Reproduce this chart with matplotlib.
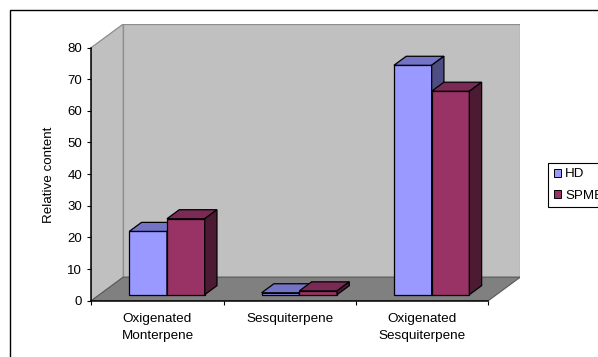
import matplotlib
matplotlib.use("Agg")
import matplotlib.pyplot as plt
from matplotlib.patches import Polygon, Rectangle, Patch
import numpy as np

plt.rcParams['font.family'] = ['Liberation Sans', 'DejaVu Sans']

# ---- data ----
categories = ["Oxigenated\nMonterpene", "Sesquiterpene", "Oxigenated\nSesquiterpene"]
series_names = ["HD", "SPME"]
hd_values = [20.0, 0.6, 72.5]
spme_values = [24.0, 1.2, 64.3]
y_ticks = [0, 10, 20, 30, 40, 50, 60, 70, 80]
y_label = "Relative content"

# ---- style ----
front_cols = ["#9999FF", "#993366"]
top_cols = ["#7474C6", "#7A2A55"]
side_cols = ["#4E4E85", "#4D1A33"]
wall_col = "#C0C0C0"
floor_col = "#808080"

W, H = 598, 357
fig = plt.figure(figsize=(W / 100, H / 100), dpi=100)

# 3D geometry (category units / value units)
DX = 0.2418      # total depth shift in x (categories)
DY = 7.45        # total depth shift in y (value units)
f0 = 0.255       # bar front depth fraction
fd = 0.383       # bar depth fraction
BW = 0.285       # bar width (categories)
LEFT0 = 0.287    # first bar front-left offset inside category
YMAX = 80

# axes placement in pixels
x0_px, x1_px = 91.3, 520.3
y0_px, ytop_px = 300.7, 24.0
ax = fig.add_axes([x0_px / W, (H - y0_px) / H, (x1_px - x0_px) / W, (y0_px - ytop_px) / H])
ax.set_xlim(0, 3 + DX)
ax.set_ylim(0, YMAX + DY)
ax.patch.set_visible(False)

# walls and floor
ax.add_patch(Rectangle((DX, DY), 3, YMAX, facecolor=wall_col, edgecolor="#8c8c8c", lw=0.9, zorder=0))
ax.add_patch(Polygon([(0, 0), (DX, DY), (DX, YMAX + DY), (0, YMAX)], closed=True,
                     facecolor=wall_col, edgecolor="#8c8c8c", lw=0.9, zorder=0))
ax.add_patch(Polygon([(0, 0), (3, 0), (3 + DX, DY), (DX, DY)], closed=True,
                     facecolor=floor_col, edgecolor="#5a5a5a", lw=0.8, zorder=1))

# bars
base = f0 * DY
bdx = fd * DX
bdy = fd * DY
idx = np.arange(len(categories))
for s, vals in enumerate([hd_values, spme_values]):
    lefts = idx + LEFT0 + s * BW
    z = 3 + s
    ax.bar(lefts, vals, width=BW, bottom=base, align='edge', color=front_cols[s],
           edgecolor="black", lw=0.9, zorder=z)
    for l, v in zip(lefts, vals):
        t = base + v
        ax.add_patch(Polygon([(l, t), (l + BW, t), (l + BW + bdx, t + bdy), (l + bdx, t + bdy)],
                             closed=True, facecolor=top_cols[s], edgecolor="black", lw=0.9, zorder=z))
        ax.add_patch(Polygon([(l + BW, base), (l + BW + bdx, base + bdy), (l + BW + bdx, t + bdy), (l + BW, t)],
                             closed=True, facecolor=side_cols[s], edgecolor="black", lw=0.9, zorder=z))

# axes lines and ticks
for sp in ["top", "right"]:
    ax.spines[sp].set_visible(False)
ax.spines["left"].set_bounds(0, YMAX)
ax.spines["bottom"].set_bounds(0, 3)
ax.spines["left"].set_linewidth(1.1)
ax.spines["bottom"].set_linewidth(1.1)
ax.spines["left"].set_zorder(6)
ax.spines["bottom"].set_zorder(6)
ax.set_yticks(y_ticks)
ax.tick_params(axis="y", direction="out", length=3, width=0.8, pad=3.5, labelsize=9.5)
ax.set_xticks([0, 1, 2, 3])
ax.set_xticklabels([])
ax.set_xticks(idx + 0.5, minor=True)
ax.set_xticklabels(categories, minor=True, fontsize=9.7, linespacing=1.65)
ax.tick_params(axis="x", which="major", direction="out", length=3, width=0.8)
ax.tick_params(axis="x", which="minor", length=0, pad=8.5)
ax.set_ylabel(y_label, fontsize=9.6)
ax.yaxis.set_label_coords(-0.085, 0.454)

# legend
handles = [Patch(facecolor=front_cols[i], edgecolor="black", lw=0.7) for i in range(2)]
leg = fig.legend(handles, series_names, loc="upper left",
                 bbox_to_anchor=(548.3 / W, 1 - 162.7 / H), fontsize=9.6,
                 frameon=True, fancybox=False, framealpha=1, edgecolor="black",
                 handlelength=0.56, handleheight=0.56, handletextpad=0.3,
                 labelspacing=0.7, borderpad=0.42, borderaxespad=0)
leg.get_frame().set_linewidth(0.8)

# outer frame (cut off at right and bottom)
fig.patches.append(Rectangle((9.5 / W, -0.2), 1.2, 1 - 10.5 / H + 0.2, transform=fig.transFigure,
                             fill=False, edgecolor="black", lw=1.0))

fig.savefig("out.png", dpi=100)
